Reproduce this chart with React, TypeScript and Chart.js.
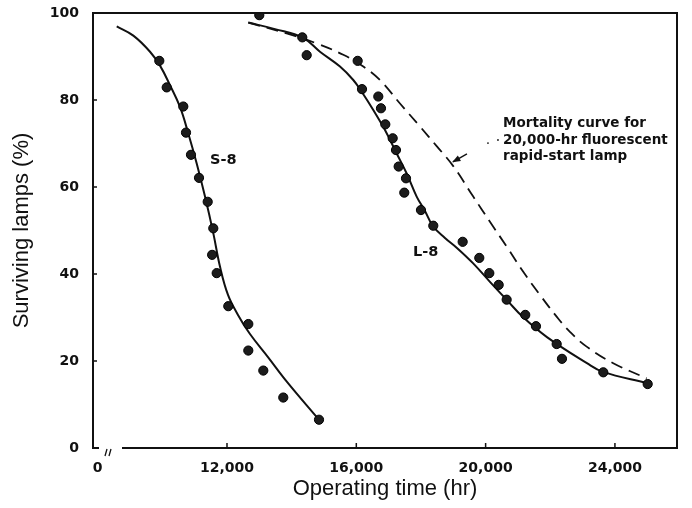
import React, { useEffect, useRef } from 'react';
import { Chart, registerables } from 'chart.js';

Chart.register(...registerables);

// ---- axis ticks ----
const xTickValues = [8000, 12000, 16000, 20000, 24000];
const xTickLabels = ['0', '12,000', '16,000', '20,000', '24,000'];
const yTickValues = [0, 20, 40, 60, 80, 100];
const xTitle = 'Operating time (hr)';
const yTitle = 'Surviving lamps (%)';

// ---- S-8 observed points ----
const s8Hours = [9906, 10135, 10648, 10732, 10886, 11134, 11403, 11576, 11540, 11681, 12040, 12659, 12659, 13123, 13741, 14846];
const s8Percent = [89.0, 82.9, 78.5, 72.5, 67.4, 62.1, 56.6, 50.5, 44.4, 40.2, 32.6, 28.5, 22.4, 17.8, 11.6, 6.5];

// ---- S-8 fitted curve ----
const s8CurveHours = [8589, 9102, 9619, 9928, 10237, 10546, 10803, 11063, 11320, 11576, 11783, 12031, 12340, 12711, 13268, 13856, 14845];
const s8CurvePercent = [96.9, 94.8, 91.1, 87.9, 83.4, 78.4, 72.3, 65.4, 57.8, 49.4, 41.7, 35.2, 30.6, 26.2, 20.9, 15.2, 6.5];

// ---- L-8 observed points ----
const l8Hours = [12999, 14329, 14465, 16042, 16176, 16680, 16763, 16897, 17125, 17227, 17310, 17537, 17484, 18000, 18381, 19290, 19804, 20114, 20404, 20651, 21226, 21558, 22198, 22362, 23640, 25013];
const l8Percent = [99.5, 94.4, 90.3, 89.0, 82.5, 80.8, 78.1, 74.4, 71.2, 68.5, 64.7, 62.0, 58.7, 54.7, 51.1, 47.4, 43.7, 40.2, 37.5, 34.1, 30.6, 28.0, 23.9, 20.5, 17.4, 14.7];

// ---- L-8 fitted curve ----
const l8CurveHours = [12659, 13485, 14351, 14876, 15495, 15906, 16166, 16525, 16887, 17249, 17558, 17867, 18124, 18371, 18742, 19113, 19608, 20134, 20660, 21155, 21897, 23134, 23629, 24990];
const l8CurvePercent = [97.8, 96.3, 94.3, 91.1, 87.7, 84.6, 81.9, 77.7, 73.1, 67.7, 63.1, 57.8, 54.5, 51.0, 48.3, 46.0, 42.5, 38.2, 34.0, 30.1, 25.5, 19.5, 17.5, 14.9];

// ---- 20,000-hr rapid-start lamp mortality curve (dashed) ----
const mortalityHours = [12659, 13846, 14774, 15597, 16216, 16732, 17351, 17970, 18486, 18999, 19617, 20134, 20651, 21164, 21681, 22197, 22608, 23125, 23948, 24981];
const mortalityPercent = [97.8, 95.3, 93.0, 90.4, 87.7, 84.6, 79.2, 73.9, 69.4, 64.8, 57.8, 52.0, 46.3, 40.5, 35.2, 30.2, 26.7, 23.3, 19.5, 16.0];

// ---- annotations ----
const noteLines = ['Mortality curve for', '20,000-hr fluorescent', 'rapid-start lamp'];
const seriesLabels = ['S-8', 'L-8'];

const toPoints = (xs: number[], ys: number[]) => xs.map((x, i) => ({ x, y: ys[i] }));

const FONT = '"DejaVu Sans", "Liberation Sans", sans-serif';
const TITLE_FONT = '"Liberation Sans", Arial, sans-serif';

const framePlugin = {
  id: 'frame',
  afterDatasetsDraw(chart: any) {
    const { ctx, chartArea } = chart;
    const { left, right, top, bottom } = chartArea;
    const xs = chart.scales.x;
    const ys = chart.scales.y;
    ctx.save();
    ctx.strokeStyle = '#111';
    ctx.fillStyle = '#111';
    ctx.lineWidth = 2;
    ctx.lineCap = 'butt';
    // left, top, right borders
    ctx.beginPath();
    ctx.moveTo(left, bottom + 1);
    ctx.lineTo(left, top);
    ctx.lineTo(right, top);
    ctx.lineTo(right, bottom);
    ctx.stroke();
    // bottom axis with break
    ctx.beginPath();
    ctx.moveTo(left - 1, bottom);
    ctx.lineTo(left + 6, bottom);
    ctx.moveTo(left + 29, bottom);
    ctx.lineTo(right + 1, bottom);
    ctx.stroke();
    ctx.lineWidth = 1.3;
    ctx.beginPath();
    ctx.moveTo(left + 12, bottom + 8);
    ctx.lineTo(left + 14, bottom + 1);
    ctx.moveTo(left + 16, bottom + 8);
    ctx.lineTo(left + 18, bottom + 1);
    ctx.stroke();
    // inner tick marks
    ctx.lineWidth = 1.5;
    ctx.beginPath();
    xTickValues.slice(1).forEach((v) => {
      const px = xs.getPixelForValue(v);
      ctx.moveTo(px, bottom);
      ctx.lineTo(px, bottom - 5);
    });
    yTickValues.slice(1, -1).forEach((v) => {
      const py = ys.getPixelForValue(v);
      ctx.moveTo(left, py);
      ctx.lineTo(left + 4, py);
    });
    ctx.stroke();

    // series labels
    ctx.textBaseline = 'middle';
    ctx.textAlign = 'left';
    ctx.font = `bold 14.5px ${FONT}`;
    ctx.fillText(seriesLabels[0], xs.getPixelForValue(11474), ys.getPixelForValue(66.2));
    ctx.fillText(seriesLabels[1], xs.getPixelForValue(17753), ys.getPixelForValue(44.9));

    // note text
    ctx.font = `bold 13.5px ${FONT}`;
    const noteY = [74.7, 70.8, 67.1];
    noteLines.forEach((t, i) => {
      ctx.fillText(t, xs.getPixelForValue(20540), ys.getPixelForValue(noteY[i]));
    });

    // arrow from note to dashed curve
    const tx = xs.getPixelForValue(19423), ty = ys.getPixelForValue(67.6);
    const hx = xs.getPixelForValue(18990), hy = ys.getPixelForValue(65.8);
    ctx.lineWidth = 1.4;
    ctx.beginPath();
    ctx.moveTo(tx, ty);
    ctx.lineTo(hx, hy);
    ctx.stroke();
    const ang = Math.atan2(hy - ty, hx - tx);
    ctx.beginPath();
    ctx.moveTo(hx + Math.cos(ang) * 1, hy + Math.sin(ang) * 1);
    ctx.lineTo(hx - Math.cos(ang - 0.4) * 8, hy - Math.sin(ang - 0.4) * 8);
    ctx.lineTo(hx - Math.cos(ang + 0.4) * 8, hy - Math.sin(ang + 0.4) * 8);
    ctx.closePath();
    ctx.fill();
    // faint dotted leader
    [[20073, 70.1], [20382, 70.8]].forEach(([dx, dy]) => {
      ctx.beginPath();
      ctx.arc(xs.getPixelForValue(dx), ys.getPixelForValue(dy), 0.9, 0, Math.PI * 2);
      ctx.fill();
    });
    ctx.restore();
  },
};

export default function App() {
  const canvasRef = useRef<HTMLCanvasElement | null>(null);

  useEffect(() => {
    document.body.style.margin = '0';
    document.body.style.background = '#fff';
    const canvas = canvasRef.current;
    if (!canvas) return;

    const pointStyle = {
      showLine: false,
      pointRadius: 4.6,
      pointBackgroundColor: '#1c1c1c',
      pointBorderColor: '#000',
      pointBorderWidth: 1,
      order: 1,
    };
    const curveStyle = {
      showLine: true,
      pointRadius: 0,
      borderColor: '#111',
      borderWidth: 2,
      tension: 0.4,
      fill: false,
      order: 2,
    };

    const chart = new Chart(canvas, {
      type: 'scatter',
      data: {
        datasets: [
          { label: 'S-8 curve', data: toPoints(s8CurveHours, s8CurvePercent), ...curveStyle },
          { label: 'L-8 curve', data: toPoints(l8CurveHours, l8CurvePercent), ...curveStyle },
          {
            label: 'Mortality curve',
            data: toPoints(mortalityHours, mortalityPercent),
            ...curveStyle,
            borderWidth: 1.8,
            borderDash: [12, 7],
          },
          { label: 'S-8', data: toPoints(s8Hours, s8Percent), ...pointStyle },
          { label: 'L-8', data: toPoints(l8Hours, l8Percent), ...pointStyle },
        ],
      },
      options: {
        animation: false,
        responsive: false,
        devicePixelRatio: 1,
        layout: { autoPadding: false, padding: { left: 0, right: 15, top: 13, bottom: 0 } },
        plugins: {
          legend: { display: false },
          tooltip: { enabled: false },
        },
        scales: {
          x: {
            type: 'linear',
            min: 7855,
            max: 25920,
            afterBuildTicks: (scale: any) => {
              scale.ticks = xTickValues.map((v) => ({ value: v }));
            },
            afterFit: (scale: any) => {
              scale.height = 60;
              scale.paddingLeft = 0;
              scale.paddingRight = 0;
            },
            grid: { display: false, drawTicks: false },
            border: { display: false },
            ticks: {
              autoSkip: false,
              maxRotation: 0,
              padding: 12,
              color: '#111',
              font: { family: FONT, size: 14, weight: 'bold' },
              callback: (v: any) => {
                const i = xTickValues.indexOf(Number(v));
                return i >= 0 ? xTickLabels[i] : '';
              },
            },
            title: {
              display: true,
              text: xTitle,
              color: '#111',
              font: { family: TITLE_FONT, size: 22 },
              padding: { top: 0, bottom: 6 },
            },
          },
          y: {
            type: 'linear',
            min: 0,
            max: 100,
            afterBuildTicks: (scale: any) => {
              scale.ticks = yTickValues.map((v) => ({ value: v }));
            },
            afterFit: (scale: any) => {
              scale.width = 93;
              scale.paddingTop = 0;
              scale.paddingBottom = 0;
            },
            grid: { display: false, drawTicks: false },
            border: { display: false },
            ticks: {
              padding: 14,
              color: '#111',
              font: { family: FONT, size: 14, weight: 'bold' },
            },
            title: {
              display: true,
              text: yTitle,
              color: '#111',
              font: { family: TITLE_FONT, size: 22 },
              padding: { top: 9, bottom: 0 },
            },
          },
        },
      },
      plugins: [framePlugin],
    });

    return () => {
      chart.destroy();
    };
  }, []);

  return (
    <div style={{ width: 692, height: 508, background: '#fff' }}>
      <canvas ref={canvasRef} width={692} height={508} style={{ display: 'block', width: 692, height: 508 }} />
    </div>
  );
}
